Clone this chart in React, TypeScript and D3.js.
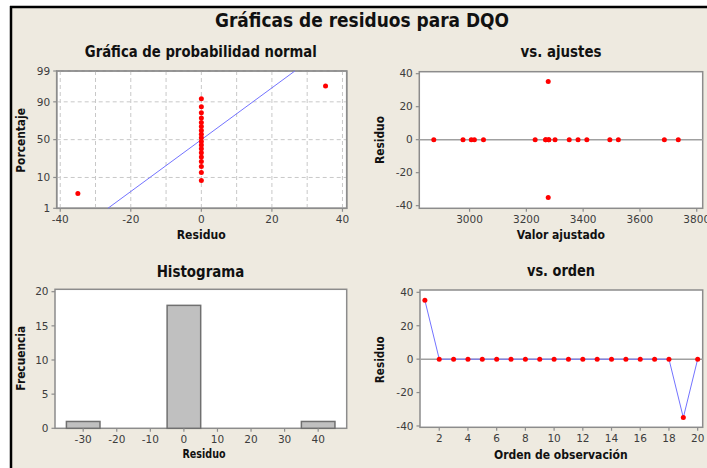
import React from 'react';
import * as d3 from 'd3';

// residuals in observation order (obs 1..20) and their fitted values
const residuals = [35.2, 0, 0, 0, 0, 0, 0, 0, 0, 0, 0, 0, 0, 0, 0, 0, 0, 0, -35.0, 0];
const fittedValues = [3277, 2874, 2977, 3006, 3017, 3049, 3231, 3268, 3279, 3301, 3351, 3382, 3413, 3494, 3524, 3686, 3735, 3268, 3277, 3279];
const observation = [1, 2, 3, 4, 5, 6, 7, 8, 9, 10, 11, 12, 13, 14, 15, 16, 17, 18, 19, 20];

// histogram bins (start of bin, width 10) and counts
const histStarts = [-35, -5, 35];
const histCounts = [1, 18, 1];

// ticks
const probYTicks = [1, 10, 50, 90, 99];
const probXTicks = [-40, -20, 0, 20, 40];
const probGridX = [-40, -30, -20, -10, 0, 10, 20, 30, 40];
const fitXTicks = [3000, 3200, 3400, 3600, 3800];
const residTicks = [-40, -20, 0, 20, 40];
const histXTicks = [-30, -20, -10, 0, 10, 20, 30, 40];
const histYTicks = [0, 5, 10, 15, 20];
const orderTicks = [2, 4, 6, 8, 10, 12, 14, 16, 18, 20];

const FONT = "'DejaVu Sans', Verdana, sans-serif";
const BG = '#eeeae0';
const FRAME = '#8c8c8c';
const TICKTXT = '#3c3c3c';
const RED = '#ff0000';
const BLUE = '#7373ff';

// inverse normal cdf (Acklam)
function probit(p: number) {
  const a = [-3.969683028665376e1, 2.209460984245205e2, -2.759285104469687e2, 1.38357751867269e2, -3.066479806614716e1, 2.506628277459239];
  const b = [-5.447609879822406e1, 1.615858368580409e2, -1.556989798598866e2, 6.680131188771972e1, -1.328068155288572e1];
  const c = [-7.784894002430293e-3, -3.223964580411365e-1, -2.400758277161838, -2.549732539343734, 4.374664141464968, 2.938163982698783];
  const d = [7.784695709041462e-3, 3.224671290700398e-1, 2.445134137142996, 3.754408661907416];
  const plow = 0.02425;
  if (p < plow) {
    const q = Math.sqrt(-2 * Math.log(p));
    return (((((c[0] * q + c[1]) * q + c[2]) * q + c[3]) * q + c[4]) * q + c[5]) / ((((d[0] * q + d[1]) * q + d[2]) * q + d[3]) * q + 1);
  }
  if (p > 1 - plow) {
    const q = Math.sqrt(-2 * Math.log(1 - p));
    return -(((((c[0] * q + c[1]) * q + c[2]) * q + c[3]) * q + c[4]) * q + c[5]) / ((((d[0] * q + d[1]) * q + d[2]) * q + d[3]) * q + 1);
  }
  const q = p - 0.5;
  const r = q * q;
  return (((((a[0] * r + a[1]) * r + a[2]) * r + a[3]) * r + a[4]) * r + a[5]) * q / (((((b[0] * r + b[1]) * r + b[2]) * r + b[3]) * r + b[4]) * r + 1);
}

const Frame = ({ x0, x1, y0, y1 }: any) => (
  <rect x={x0} y={y0} width={x1 - x0} height={y1 - y0} fill="#fff" stroke={FRAME} strokeWidth={1.5} />
);

const XTicks = ({ scale, ticks, y, fmt }: any) => (
  <g>
    {ticks.map((t: number) => (
      <g key={t}>
        <line x1={scale(t)} x2={scale(t)} y1={y} y2={y + 3.5} stroke={FRAME} strokeWidth={1.2} />
        <text x={scale(t)} y={y + 14.5} textAnchor="middle" fontSize={10.5} fill={TICKTXT} fontFamily={FONT}>
          {fmt ? fmt(t) : t}
        </text>
      </g>
    ))}
  </g>
);

const YTicks = ({ scale, ticks, x, fmt }: any) => (
  <g>
    {ticks.map((t: number) => (
      <g key={t}>
        <line x1={x - 3.5} x2={x} y1={scale(t)} y2={scale(t)} stroke={FRAME} strokeWidth={1.2} />
        <text x={x - 6.5} y={scale(t) + 3.8} textAnchor="end" fontSize={10.5} fill={TICKTXT} fontFamily={FONT}>
          {fmt ? fmt(t) : t}
        </text>
      </g>
    ))}
  </g>
);

const Title = ({ x, y, w, size, children }: any) => (
  <text x={x} y={y} textAnchor="middle" fontSize={size} fontWeight="bold" fill="#111" fontFamily={FONT}
    textLength={w} lengthAdjust="spacingAndGlyphs">{children}</text>
);

const VLabel = ({ x, y, w, children }: any) => (
  <text transform={`translate(${x},${y}) rotate(-90)`} textAnchor="middle" fontSize={11.5} fontWeight="bold" fill="#111"
    fontFamily={FONT} textLength={w} lengthAdjust="spacingAndGlyphs">{children}</text>
);

const App = () => {
  const n = residuals.length;

  // panel 1: normal probability plot
  const p1 = { x0: 56.7, x1: 346.7, y0: 71, y1: 208.3 };
  const x1s = d3.scaleLinear().domain([-41, 41.2]).range([p1.x0, p1.x1]);
  const zMax = probit(0.99);
  const y1s = d3.scaleLinear().domain([-zMax, zMax]).range([p1.y1, p1.y0]);
  const sorted = residuals.slice().sort((a, b) => a - b);
  const probPts = sorted.map((r, i) => ({ x: r, z: probit((i + 1 - 0.3) / (n + 0.4)) }));
  const mean = d3.mean(residuals) as number;
  const sd = d3.deviation(residuals) as number;
  const fitLine = d3.line<number>().x(z => x1s(mean + sd * z)).y(z => y1s(z));

  // panel 2: vs fits
  const p2 = { x0: 419.3, x1: 702.7, y0: 71.7, y1: 208.3 };
  const x2s = d3.scaleLinear().domain([2823, 3821]).range([p2.x0, p2.x1]);
  const y2s = d3.scaleLinear().domain([-41.6, 41.2]).range([p2.y1, p2.y0]);

  // panel 3: histogram
  const p3 = { x0: 55, x1: 346.7, y0: 289.3, y1: 428.3 };
  const x3s = d3.scaleLinear().domain([-38.4, 48.5]).range([p3.x0, p3.x1]);
  const y3s = d3.scaleLinear().domain([0, 20.35]).range([p3.y1, p3.y0]);

  // panel 4: vs order
  const p4 = { x0: 420, x1: 702.7, y0: 290, y1: 427.3 };
  const x4s = d3.scaleLinear().domain([0.66, 20.35]).range([p4.x0, p4.x1]);
  const y4s = d3.scaleLinear().domain([-40.8, 41.4]).range([p4.y1, p4.y0]);
  const orderLine = d3.line<number>().x((_, i) => x4s(observation[i])).y(r => y4s(r));

  return (
    <svg width={707} height={468} style={{ position: 'absolute', left: 0, top: 0 }}>
      <rect x={0} y={0} width={707} height={468} fill="#fff" />
      <rect x={11} y={7} width={696} height={461} fill={BG} />
      <line x1={10} x2={707} y1={7} y2={7} stroke="#000" strokeWidth={2.5} />
      <line x1={11} x2={11} y1={6} y2={468} stroke="#000" strokeWidth={2.5} />

      <Title x={362} y={27} w={294} size={20}>Gráficas de residuos para DQO</Title>

      {/* normal probability plot */}
      <Title x={200.8} y={56.7} w={232} size={15.5}>Gráfica de probabilidad normal</Title>
      <Frame {...p1} />
      <g stroke="#c8c8c8" strokeWidth={1} strokeDasharray="4,3">
        {probGridX.map(t => <line key={t} x1={x1s(t)} x2={x1s(t)} y1={p1.y0} y2={p1.y1} />)}
        {probYTicks.map(t => <line key={t} x1={p1.x0} x2={p1.x1} y1={y1s(probit(t / 100))} y2={y1s(probit(t / 100))} />)}
      </g>
      <rect x={p1.x0} y={p1.y0} width={p1.x1 - p1.x0} height={p1.y1 - p1.y0} fill="none" stroke={FRAME} strokeWidth={1.5} />
      <path d={fitLine([-zMax, zMax]) as string} fill="none" stroke={BLUE} strokeWidth={1} />
      {probPts.map((d, i) => <circle key={i} cx={x1s(d.x)} cy={y1s(d.z)} r={2.5} fill={RED} />)}
      <XTicks scale={x1s} ticks={probXTicks} y={p1.y1} />
      <YTicks scale={(t: number) => y1s(probit(t / 100))} ticks={probYTicks} x={p1.x0} />
      <Title x={201.2} y={239.3} w={49} size={11.5}>Residuo</Title>
      <VLabel x={24.5} y={140.4} w={64.7}>Porcentaje</VLabel>

      {/* vs fits */}
      <Title x={561} y={56.7} w={81} size={15.5}>vs. ajustes</Title>
      <Frame {...p2} />
      <line x1={p2.x0} x2={p2.x1} y1={y2s(0)} y2={y2s(0)} stroke="#a0a0a0" strokeWidth={1.5} />
      {residuals.map((r, i) => <circle key={i} cx={x2s(fittedValues[i])} cy={y2s(r)} r={2.5} fill={RED} />)}
      <XTicks scale={x2s} ticks={fitXTicks} y={p2.y1} />
      <YTicks scale={y2s} ticks={residTicks} x={p2.x0} />
      <Title x={560.8} y={239.3} w={88.3} size={11.5}>Valor ajustado</Title>
      <VLabel x={384.3} y={140} w={48}>Residuo</VLabel>

      {/* histogram */}
      <Title x={200.5} y={276.7} w={87.7} size={15.5}>Histograma</Title>
      <Frame {...p3} />
      {histStarts.map((s, i) => (
        <rect key={s} x={x3s(s)} y={y3s(histCounts[i])} width={x3s(s + 10) - x3s(s)} height={y3s(0) - y3s(histCounts[i])}
          fill="#c0c0c0" stroke="#707070" strokeWidth={1.5} />
      ))}
      <XTicks scale={x3s} ticks={histXTicks} y={p3.y1} />
      <YTicks scale={y3s} ticks={histYTicks} x={p3.x0} />
      <Title x={204} y={458.3} w={43} size={11.5}>Residuo</Title>
      <VLabel x={25} y={358.3} w={64.7}>Frecuencia</VLabel>

      {/* vs order */}
      <Title x={561} y={276} w={68} size={15.5}>vs. orden</Title>
      <Frame {...p4} />
      <line x1={p4.x0} x2={p4.x1} y1={y4s(0)} y2={y4s(0)} stroke="#a0a0a0" strokeWidth={1.5} />
      <path d={orderLine(residuals) as string} fill="none" stroke={BLUE} strokeWidth={1} />
      {residuals.map((r, i) => <circle key={i} cx={x4s(observation[i])} cy={y4s(r)} r={2.5} fill={RED} />)}
      <XTicks scale={x4s} ticks={orderTicks} y={p4.y1} />
      <YTicks scale={y4s} ticks={residTicks} x={p4.x0} />
      <Title x={560.8} y={459.3} w={133.7} size={11.5}>Orden de observación</Title>
      <VLabel x={384.3} y={359.7} w={47}>Residuo</VLabel>
    </svg>
  );
};

export default App;
